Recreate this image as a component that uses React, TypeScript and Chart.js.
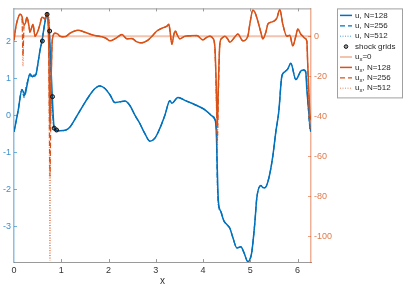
import React, { useEffect, useRef } from "react";
import { Chart, registerables } from "chart.js";

Chart.register(...registerables);

// ---------- data ----------
const X_TICKS = [0, 1, 2, 3, 4, 5, 6];
const Y_LEFT_TICKS = [-3, -2, -1, 0, 1, 2];
const Y_RIGHT_TICKS = [-100, -80, -60, -40, -20, 0];
const X_MIN = 0;
const X_MAX = 6.2832;
const Y_LEFT_RANGE = [-3.96, 2.88];
const Y_RIGHT_RANGE = [-112.8, 13.9];

const U_X = [
  0, 0.085, 0.169, 0.211, 0.233, 0.275, 0.338, 0.38, 0.423, 0.465,
  0.507, 0.55, 0.592, 0.634, 0.677, 0.698, 0.72, 0.746, 0.764, 0.782,
  0.81, 0.846, 0.888, 0.972, 1.1, 1.184, 1.353, 1.48, 1.607, 1.713,
  1.818, 1.924, 2.03, 2.135, 2.241, 2.347, 2.452, 2.558, 2.664, 2.77,
  2.875, 2.981, 3.087, 3.192, 3.298, 3.34, 3.467, 3.615, 3.763, 3.869,
  3.996, 4.101, 4.186, 4.249, 4.28, 4.302, 4.323, 4.376, 4.44, 4.503,
  4.567, 4.63, 4.715, 4.799, 4.863, 4.947, 4.989, 5.03, 5.095, 5.137,
  5.222, 5.264, 5.307, 5.391, 5.476, 5.539, 5.602, 5.666, 5.729, 5.793,
  5.856, 5.962, 6.068, 6.131, 6.173, 6.195, 6.237, 6.262, 6.283,
];
const U_128 = [
  -0.45, 0.1, 0.68, 0.6, 0.55, 0.8, 1.12, 1.05, 1.05, 1.1,
  1.4, 1.75, 2.0, 2.35, 2.65, 2.73, 2.6, 2.27, 1.8, 1.3,
  0.5, -0.3, -0.4, -0.42, -0.4, -0.32, 0.03, 0.3, 0.55, 0.72,
  0.79, 0.72, 0.55, 0.34, 0.36, 0.38, 0.26, 0.0, -0.23, -0.5,
  -0.7, -0.62, -0.35, 0.0, 0.39, 0.32, 0.48, 0.4, 0.32, 0.26,
  0.18, 0.08, -0.02, -0.1, -0.45, -1.5, -2.3, -2.6, -2.85, -2.95,
  -3.05, -3.3, -3.58, -3.55, -3.7, -3.95, -3.9, -3.7, -2.9, -2.23,
  -1.9, -1.95, -1.96, -1.7, -1.1, -0.45, 0.1, 1.05, 1.17, 1.25,
  1.4, 0.96, 1.19, 1.22, 1.15, 0.7, 0.08, -0.3, -0.45,
];
const U_256 = [
  -0.45, 0.1, 0.7, 0.5, 0.6, 0.85, 1.1, 1.02, 1.08, 1.1,
  1.4, 1.75, 2.0, 2.35, 2.66, 2.76, 2.68, 2.4, 1.6, 0.9,
  0.2, -0.35, -0.42, -0.42, -0.4, -0.32, 0.03, 0.3, 0.55, 0.72,
  0.79, 0.72, 0.55, 0.34, 0.36, 0.38, 0.26, 0.0, -0.23, -0.5,
  -0.7, -0.62, -0.35, 0.0, 0.39, 0.32, 0.48, 0.4, 0.32, 0.26,
  0.18, 0.08, -0.02, -0.12, -0.35, -1.8, -2.4, -2.6, -2.85, -2.95,
  -3.05, -3.3, -3.58, -3.55, -3.7, -3.95, -3.9, -3.7, -2.9, -2.23,
  -1.9, -1.95, -1.96, -1.7, -1.1, -0.45, 0.1, 1.05, 1.17, 1.25,
  1.4, 0.96, 1.19, 1.22, 1.17, 0.8, 0.0, -0.38, -0.45,
];
const U_512 = [
  -0.45, 0.1, 0.72, 0.45, 0.62, 0.88, 1.08, 1.0, 1.1, 1.1,
  1.4, 1.75, 2.0, 2.35, 2.67, 2.78, 2.72, 2.5, 1.4, 0.6,
  0.0, -0.38, -0.43, -0.42, -0.4, -0.32, 0.03, 0.3, 0.55, 0.72,
  0.79, 0.72, 0.55, 0.34, 0.36, 0.38, 0.26, 0.0, -0.23, -0.5,
  -0.7, -0.62, -0.35, 0.0, 0.39, 0.32, 0.48, 0.4, 0.32, 0.26,
  0.18, 0.08, -0.02, -0.13, -0.3, -2.0, -2.45, -2.6, -2.85, -2.95,
  -3.05, -3.3, -3.58, -3.55, -3.7, -3.95, -3.9, -3.7, -2.9, -2.23,
  -1.9, -1.95, -1.96, -1.7, -1.1, -0.45, 0.1, 1.05, 1.17, 1.25,
  1.4, 0.96, 1.19, 1.22, 1.18, 0.85, -0.05, -0.42, -0.45,
];

const SHOCK_X = [0.6, 0.7, 0.754, 0.815, 0.85, 0.9];
const SHOCK_U = [2.0, 2.72, 2.27, 0.5, -0.35, -0.4];

const ZERO_X = [0, 6.2832];
const ZERO_Y = [0, 0];

const UX_X = [
  0, 0.042, 0.085, 0.127, 0.169, 0.19, 0.211, 0.233, 0.275, 0.317,
  0.338, 0.37, 0.402, 0.444, 0.476, 0.507, 0.55, 0.592, 0.634, 0.655,
  0.677, 0.698, 0.72, 0.74, 0.761, 0.782, 0.803, 0.825, 0.867, 0.93,
  0.972, 1.078, 1.184, 1.353, 1.501, 1.67, 1.86, 1.945, 2.03, 2.156,
  2.283, 2.389, 2.495, 2.6, 2.706, 2.833, 2.939, 3.023, 3.129, 3.235,
  3.277, 3.298, 3.34, 3.383, 3.414, 3.446, 3.509, 3.615, 3.721, 3.869,
  3.996, 4.08, 4.144, 4.207, 4.249, 4.28, 4.302, 4.323, 4.355, 4.397,
  4.461, 4.524, 4.567, 4.651, 4.736, 4.841, 4.947, 4.989, 5.053, 5.095,
  5.159, 5.222, 5.264, 5.328, 5.37, 5.433, 5.497, 5.56, 5.623, 5.687,
  5.772, 5.835, 5.898, 5.962, 6.004, 6.068, 6.11, 6.152, 6.195, 6.216,
  6.237, 6.258, 6.283,
];
const UX_128 = [
  -2, 5, 9, 11, 10, 7, 6, 6, 9.5, 5,
  2, 4, 6, 0, 1, 2.6, 6, 9.5, 9, 8.5,
  10, 11, 8, -10, -46, -25, -5, 0, 1.5, 1,
  0, -0.3, 1.5, 3, 2, 0.6, -0.3, -1, -2.3, -1,
  0.8, -1.3, -1.2, -2.8, -3.3, -2, 0.5, 2.6, 4, 5,
  6, 3, -4, 1, 2.6, 1, -1.3, 0, 0.2, 0.3,
  -1.8, -0.5, 0, -1, -5, -25, -45, -25, -3.8, -1,
  0, -1.5, -3, -1, 1.1, -2.3, 0, 6, 13, 12,
  7.5, 2, -1.3, 2, 6, 7, 7.5, 9, 13.4, 6,
  0, 0.5, -4.8, 0, 3.6, 1, 0, -1, -2.5, -15,
  -27, -38, -42,
];
const UX_256 = [
  -2, 5, 9, 11, 9, -10, 5, 6, 9.5, 5,
  2, 4, 6, 0, 1, 2.6, 6, 9.5, 9, 8.5,
  10, 11.5, 9, -20, -70, -30, -5, 0, 1.5, 1,
  0, -0.3, 1.5, 3, 2, 0.6, -0.3, -1, -2.3, -1,
  0.8, -1.3, -1.2, -2.8, -3.3, -2, 0.5, 2.6, 4, 5,
  6, 3, -4, 1, 2.6, 1, -1.3, 0, 0.2, 0.3,
  -1.8, -0.5, 0, -1, -6, -30, -52, -30, -3.8, -1,
  0, -1.5, -3, -1, 1.1, -2.3, 0, 6, 13, 12,
  7.5, 2, -1.3, 2, 6, 7, 7.5, 9, 13.4, 6,
  0, 0.5, -4.8, 0, 3.6, 1, 0, -1, -2.5, -17,
  -30, -44, -46,
];
const UX_512 = [
  -2, 5, 9, 11, 9, -15, 4, 6, 9.5, 5,
  2, 4, 6, 0, 1, 2.6, 6, 9.5, 9, 8.5,
  10, 12, 10, -30, -112, -20, -5, 0, 1.5, 1,
  0, -0.3, 1.5, 3, 2, 0.6, -0.3, -1, -2.3, -1,
  0.8, -1.3, -1.2, -2.8, -3.3, -2, 0.5, 2.6, 4, 5,
  6, 3, -4, 1, 2.6, 1, -1.3, 0, 0.2, 0.3,
  -1.8, -0.5, 0, -1, -7, -35, -58, -25, -3.8, -1,
  0, -1.5, -3, -1, 1.1, -2.3, 0, 6, 13, 12,
  7.5, 2, -1.3, 2, 6, 7, 7.5, 9, 13.4, 6,
  0, 0.5, -4.8, 0, 3.6, 1, 0, -1, -2.5, -18,
  -32, -46, -46,
];

// ---------- styles ----------
const BLUE = "#0072BD";
const ORANGE = "#D95319";
const ZERO_COLOR = "rgba(217,83,25,0.35)";
const FONT = "'Liberation Sans', Arial, Helvetica, sans-serif";

function pts(xs: number[], ys: number[]) {
  return xs.map((x, i) => ({ x, y: ys[i] }));
}

const tickMarksPlugin = {
  id: "tickMarks",
  afterDraw(chart: any) {
    const { ctx, chartArea: a, scales } = chart;
    ctx.save();
    ctx.lineWidth = 1;
    ctx.strokeStyle = "#9a9a9a";
    ctx.beginPath();
    ctx.moveTo(a.left, a.top + 0.5);
    ctx.lineTo(a.right, a.top + 0.5);
    ctx.stroke();
    scales.x.ticks.forEach((t: any) => {
      const px = Math.round(scales.x.getPixelForValue(t.value)) + 0.5;
      if (px <= a.left + 1) return;
      ctx.beginPath();
      ctx.moveTo(px, a.bottom);
      ctx.lineTo(px, a.bottom - 3);
      ctx.moveTo(px, a.top);
      ctx.lineTo(px, a.top + 3);
      ctx.stroke();
    });
    ctx.strokeStyle = "rgba(0,114,189,0.55)";
    scales.y.ticks.forEach((t: any) => {
      const py = Math.round(scales.y.getPixelForValue(t.value)) + 0.5;
      ctx.beginPath();
      ctx.moveTo(a.left, py);
      ctx.lineTo(a.left + 3, py);
      ctx.stroke();
    });
    ctx.strokeStyle = "rgba(217,83,25,0.55)";
    scales.y1.ticks.forEach((t: any) => {
      const py = Math.round(scales.y1.getPixelForValue(t.value)) + 0.5;
      ctx.beginPath();
      ctx.moveTo(a.right, py);
      ctx.lineTo(a.right - 3, py);
      ctx.stroke();
    });
    ctx.restore();
  },
};

const boxLegendPlugin = {
  id: "boxLegend",
  afterDraw(chart: any) {
    const { ctx, chartArea: a } = chart;
    const x0 = a.right + 26;
    const y0 = a.top;
    const w = 65;
    const h = 89;
    ctx.save();
    ctx.fillStyle = "#ffffff";
    ctx.fillRect(x0, y0, w, h);
    ctx.strokeStyle = "#a0a0a0";
    ctx.lineWidth = 1;
    ctx.strokeRect(x0 + 0.5, y0 + 0.5, w, h);
    const step = 10.4;
    chart.data.datasets.forEach((ds: any, i: number) => {
      const cy = y0 + 7 + i * step;
      const lx0 = x0 + 3;
      const lx1 = x0 + 15;
      if (ds.showLine === false) {
        ctx.beginPath();
        ctx.arc((lx0 + lx1) / 2, cy, 1.8, 0, Math.PI * 2);
        ctx.fillStyle = ds.pointBackgroundColor;
        ctx.fill();
        ctx.strokeStyle = ds.pointBorderColor;
        ctx.lineWidth = 1;
        ctx.stroke();
      } else {
        ctx.beginPath();
        ctx.setLineDash(ds.borderDash || []);
        ctx.strokeStyle = ds.borderColor;
        ctx.lineWidth = ds.borderWidth;
        ctx.moveTo(lx0, cy);
        ctx.lineTo(lx1, cy);
        ctx.stroke();
        ctx.setLineDash([]);
      }
      ctx.fillStyle = "#262626";
      ctx.textBaseline = "middle";
      ctx.textAlign = "left";
      let tx = x0 + 18;
      const parts = String(ds.label).split("_x");
      parts.forEach((p: string, k: number) => {
        ctx.font = `8px ${FONT}`;
        ctx.fillText(p, tx, cy);
        tx += ctx.measureText(p).width;
        if (k < parts.length - 1) {
          ctx.font = `6px ${FONT}`;
          ctx.fillText("x", tx, cy + 2.5);
          tx += ctx.measureText("x").width;
        }
      });
    });
    ctx.restore();
  },
};

export default function App() {
  const ref = useRef<HTMLCanvasElement | null>(null);

  useEffect(() => {
    if (!ref.current) return;
    const chart = new Chart(ref.current, {
      type: "line",
      data: {
        datasets: [
          {
            label: "u, N=128",
            data: pts(U_X, U_128),
            yAxisID: "y",
            borderColor: BLUE,
            borderWidth: 1.5,
            order: 7,
          },
          {
            label: "u, N=256",
            data: pts(U_X, U_256),
            yAxisID: "y",
            borderColor: BLUE,
            borderWidth: 1.2,
            borderDash: [5, 3],
            order: 6,
          },
          {
            label: "u, N=512",
            data: pts(U_X, U_512),
            yAxisID: "y",
            borderColor: "rgba(0,114,189,0.7)",
            borderWidth: 1,
            borderDash: [1, 1.5],
            order: 5,
          },
          {
            label: "shock grids",
            data: pts(SHOCK_X, SHOCK_U),
            yAxisID: "y",
            showLine: false,
            pointRadius: 2,
            pointBorderWidth: 1,
            pointBorderColor: "#111111",
            pointBackgroundColor: "rgba(0,0,0,0.35)",
            borderColor: "#111111",
            order: 0,
          },
          {
            label: "u_x=0",
            data: pts(ZERO_X, ZERO_Y),
            yAxisID: "y1",
            borderColor: ZERO_COLOR,
            borderWidth: 2,
            order: 4,
          },
          {
            label: "u_x, N=128",
            data: pts(UX_X, UX_128),
            yAxisID: "y1",
            borderColor: ORANGE,
            borderWidth: 1.5,
            order: 3,
          },
          {
            label: "u_x, N=256",
            data: pts(UX_X, UX_256),
            yAxisID: "y1",
            borderColor: ORANGE,
            borderWidth: 1.2,
            borderDash: [5, 3],
            order: 2,
          },
          {
            label: "u_x, N=512",
            data: pts(UX_X, UX_512),
            yAxisID: "y1",
            borderColor: "rgba(217,83,25,0.7)",
            borderWidth: 1,
            borderDash: [1, 1.5],
            order: 1,
          },
        ] as any,
      },
      options: {
        animation: false,
        responsive: false,
        maintainAspectRatio: false,
        elements: {
          point: { radius: 0, hoverRadius: 0 },
          line: { tension: 0, cubicInterpolationMode: "monotone", fill: false },
        },
        layout: { padding: { top: 4, left: 0, right: 0, bottom: 0 } },
        plugins: {
          legend: { display: false },
          tooltip: { enabled: false },
        },
        scales: {
          x: {
            type: "linear",
            min: X_MIN,
            max: X_MAX,
            afterBuildTicks: (s: any) => {
              s.ticks = X_TICKS.map((v) => ({ value: v }));
            },
            afterFit: (s: any) => {
              s.height = 26;
            },
            grid: { display: true, drawOnChartArea: false, drawTicks: false },
            border: { display: true, color: "#9a9a9a", width: 1 },
            ticks: {
              color: "#333333",
              font: { family: FONT, size: 9 },
              padding: 3,
              maxRotation: 0,
            },
            title: {
              display: true,
              text: "x",
              color: "#333333",
              font: { family: FONT, size: 10 },
              padding: { top: 0, bottom: 1 },
            },
          },
          y: {
            type: "linear",
            position: "left",
            min: Y_LEFT_RANGE[0],
            max: Y_LEFT_RANGE[1],
            afterBuildTicks: (s: any) => {
              s.ticks = Y_LEFT_TICKS.map((v) => ({ value: v }));
            },
            afterFit: (s: any) => {
              s.width = 14;
            },
            grid: { display: true, drawOnChartArea: false, drawTicks: false },
            border: { display: true, color: "rgba(0,114,189,0.45)", width: 1.5 },
            ticks: {
              color: "#3d8fcf",
              font: { family: FONT, size: 9 },
              padding: 3,
            },
          },
          y1: {
            type: "linear",
            position: "right",
            min: Y_RIGHT_RANGE[0],
            max: Y_RIGHT_RANGE[1],
            afterBuildTicks: (s: any) => {
              s.ticks = Y_RIGHT_TICKS.map((v) => ({ value: v }));
            },
            afterFit: (s: any) => {
              s.width = 96;
            },
            grid: { display: true, drawOnChartArea: false, drawTicks: false },
            border: { display: true, color: "rgba(217,83,25,0.45)", width: 1.5 },
            ticks: {
              color: "#e07a4c",
              font: { family: FONT, size: 9 },
              padding: 3,
            },
          },
        },
      } as any,
      plugins: [tickMarksPlugin, boxLegendPlugin],
    });
    return () => chart.destroy();
  }, []);

  return (
    <div style={{ position: "absolute", left: 0, top: 0, width: 407, height: 288, background: "#fff" }}>
      <canvas ref={ref} width={407} height={288} style={{ width: 407, height: 288 }} />
    </div>
  );
}
